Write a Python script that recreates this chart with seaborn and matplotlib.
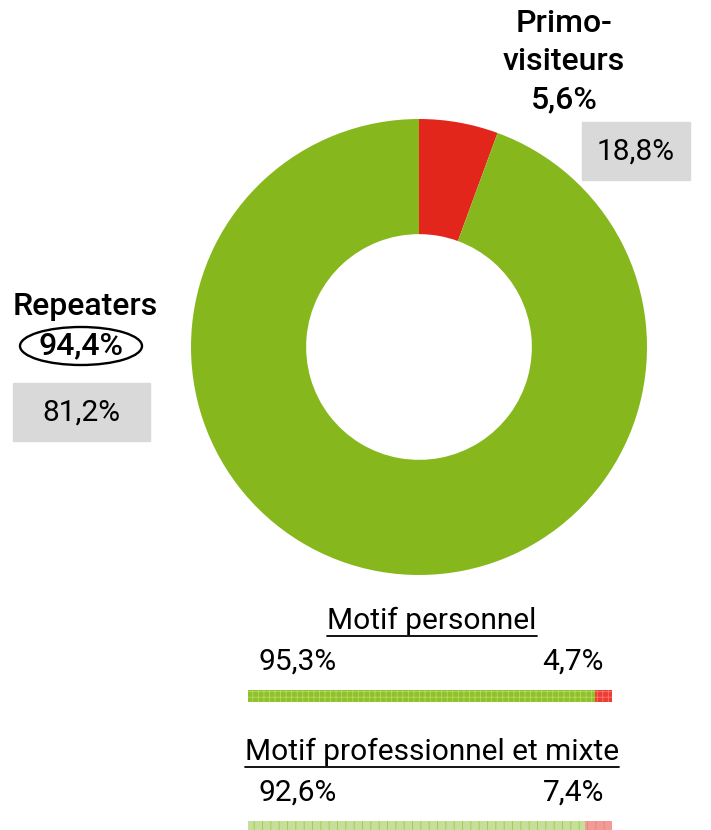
import numpy as np
import pandas as pd
import seaborn as sns
import matplotlib.pyplot as plt
from matplotlib.patches import Ellipse, Rectangle

# donut: share of visitors
visitor_labels = ["Primo-\nvisiteurs", "Repeaters"]
visitor_share = [5.6, 94.4]
visitor_compare = [18.8, 81.2]

# bars: split by trip motive
motifs = ["Motif personnel", "Motif professionnel et mixte"]
repeaters_share = [95.3, 92.6]
primo_share = [4.7, 7.4]

def fmt(v):
    return f"{v:.1f}%".replace(".", ",")

sns.set_theme(style="white")
plt.rcParams['font.family'] = ['Roboto', 'DejaVu Sans']
plt.rcParams['text.color'] = 'black'
plt.rcParams['hatch.linewidth'] = 0.6

GREEN = "#86b81e"
RED = "#e3261b"
W, H = 711, 830
fig = plt.figure(figsize=(W / 100, H / 100), dpi=100)

# overlay axes in pixel coordinates for text
ax0 = fig.add_axes([0, 0, 1, 1])
ax0.set_xlim(0, W)
ax0.set_ylim(H, 0)
ax0.axis("off")

# donut
cx, cy, r = 419, 347, 228
axp = fig.add_axes([(cx - r) / W, (H - cy - r) / H, 2 * r / W, 2 * r / H])
axp.pie(visitor_share, colors=[RED, GREEN], startangle=90, counterclock=False,
        radius=1, wedgeprops=dict(width=0.505, linewidth=0))
axp.set_xlim(-1, 1)
axp.set_ylim(-1, 1)
axp.axis("off")

fs = 21.5
fb = 23
bw_font = "medium"
# Primo-visiteurs
for k, line in enumerate(visitor_labels[0].split("\n")):
    ax0.text(564, 23 + 38 * k, line, ha="center", va="center", fontsize=fb,
             fontweight=bw_font)
ax0.text(564, 100, fmt(visitor_share[0]), ha="center", va="center", fontsize=fb,
         fontweight=bw_font)
ax0.add_patch(Rectangle((582, 122), 108, 58, color="#d9d9d9", zorder=0))
ax0.text(636, 152, fmt(visitor_compare[0]), ha="center", va="center", fontsize=fs)

# Repeaters
ax0.text(85, 306, visitor_labels[1], ha="center", va="center", fontsize=fb,
         fontweight=bw_font)
ax0.text(81, 346, fmt(visitor_share[1]), ha="center", va="center", fontsize=fb,
         fontweight=bw_font)
ax0.add_patch(Ellipse((81, 346), 122, 38, fill=False, edgecolor="black", lw=1.7))
ax0.add_patch(Rectangle((13, 383), 137, 58, color="#d9d9d9", zorder=0))
ax0.text(81, 413, fmt(visitor_compare[1]), ha="center", va="center", fontsize=fs)

# bar labels
titles = []
for i, (m, g, p) in enumerate(zip(motifs, repeaters_share, primo_share)):
    y0 = 621 + 131 * i
    titles.append(ax0.text(432, y0, m, ha="center", va="center", fontsize=fs))
    ax0.text(259, y0 + 41, fmt(g), ha="left", va="center", fontsize=fs)
    ax0.text(604, y0 + 41, fmt(p), ha="right", va="center", fontsize=fs)

# stacked bars
df = pd.DataFrame({"motif": motifs, "rep": repeaters_share,
                   "total": np.add(repeaters_share, primo_share)})
x0, x1 = 248, 612
yc0, step = 696, 131
pad = 0.06
top = yc0 - pad * step
bot = yc0 + (1 + pad) * step
axb = fig.add_axes([x0 / W, (H - bot) / H, (x1 - x0) / W, (bot - top) / H])
bw = 12 / step
sns.barplot(data=df, x="total", y="motif", hue="motif", palette=["#ee3b30", "#f29a96"],
            width=bw, legend=False, ax=axb, orient="h", saturation=1)
sns.barplot(data=df, x="rep", y="motif", hue="motif", palette=["#8fc128", "#c6e09a"],
            width=bw, legend=False, ax=axb, orient="h", saturation=1)
hatch_cols = ["#f77a72", "#e5857f", "#b3d96a", "#9ec84c"]
hatches = ["+++", "||", "+++", "||"]
for k, patch in enumerate(axb.patches):
    patch.set_hatch(hatches[k])
    patch.set_edgecolor(hatch_cols[k])
    patch.set_linewidth(0)
axb.set_xlim(0, 100)
axb.set_ylim(1 + pad, -pad)
axb.axis("off")

# underline titles
fig.canvas.draw()
rend = fig.canvas.get_renderer()
for t in titles:
    bb = t.get_window_extent(rend)
    yy = H - bb.y0 + 1
    ax0.plot([bb.x0, bb.x1], [yy, yy], color="black", lw=1.3)

fig.savefig("out.png", dpi=100)
